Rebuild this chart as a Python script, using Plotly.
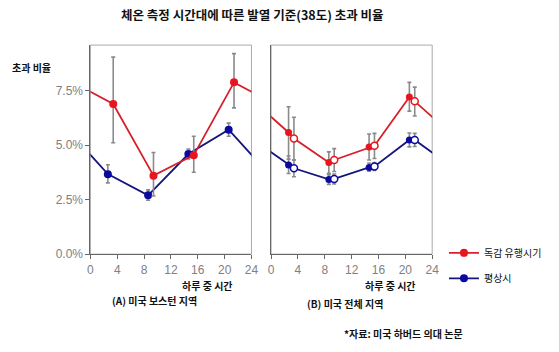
import plotly.graph_objects as go

# ---------------- data ----------------
hours_early = [2.6, 8.6, 14.6, 20.6]
hours_late = [3.4, 9.4, 15.4, 21.4]
xticks = [0, 4, 8, 12, 16, 20, 24]
yticks = [0, 2.5, 5, 7.5]
ytick_labels = ["0.0%", "2.5%", "5.0%", "7.5%"]

# (A) Boston
A_flu = [6.89, 3.60, 4.54, 7.88]
A_flu_hi = [9.04, 4.66, 5.41, 9.20]
A_flu_lo = [5.11, 2.67, 3.76, 6.71]
A_norm = [3.67, 2.70, 4.59, 5.71]
A_norm_hi = [4.10, 2.95, 4.82, 6.01]
A_norm_lo = [3.27, 2.47, 4.37, 5.41]

# (B) whole US : filled (early) and open (late) markers
B_flu_f = [5.58, 4.20, 4.91, 7.21]
B_flu_f_hi = [6.76, 4.69, 5.51, 7.88]
B_flu_f_lo = [4.36, 3.71, 4.32, 6.56]
B_flu_o = [5.30, 4.32, 4.97, 7.01]
B_flu_o_hi = [6.28, 4.84, 5.54, 7.66]
B_flu_o_lo = [4.32, 3.79, 4.39, 6.34]
B_norm_f = [4.09, 3.43, 3.98, 5.24]
B_norm_f_hi = [4.50, 3.65, 4.18, 5.56]
B_norm_f_lo = [3.70, 3.20, 3.80, 4.92]
B_norm_o = [3.94, 3.45, 4.02, 5.24]
B_norm_o_hi = [4.32, 3.68, 4.20, 5.54]
B_norm_o_lo = [3.55, 3.22, 3.84, 4.94]

RED_M = "#e8141e"
RED_L = "#d6202b"
BLUE_M = "#0a0aa0"
BLUE_L = "#15157e"
GRAY = "#8a8a8a"
KFONT = "Noto Sans CJK KR"

W, H = 559, 352


def wrap(xs, ys):
    # day is periodic: repeat last point one day earlier and first point one day later
    return [xs[-1] - 24] + list(xs) + [xs[0] + 24], [ys[-1]] + list(ys) + [ys[0]]


def err(y, hi, lo):
    return dict(type="data", symmetric=False,
                array=[h - v for h, v in zip(hi, y)],
                arrayminus=[v - l for v, l in zip(y, lo)],
                color=GRAY, thickness=1.6, width=2)


fig = go.Figure()

# ---- panel A ----
for xs, ys, hi, lo, lc, mc in [
    (hours_early, A_norm, A_norm_hi, A_norm_lo, BLUE_L, BLUE_M),
    (hours_late, A_flu, A_flu_hi, A_flu_lo, RED_L, RED_M),
]:
    wx, wy = wrap(xs, ys)
    fig.add_trace(go.Scatter(x=wx, y=wy, mode="lines", line=dict(color=lc, width=1.8),
                             xaxis="x", yaxis="y", showlegend=False, hoverinfo="skip"))
    fig.add_trace(go.Scatter(x=xs, y=ys, mode="markers", error_y=err(ys, hi, lo),
                             marker=dict(color=mc, size=8), xaxis="x", yaxis="y",
                             showlegend=False, cliponaxis=False))

# ---- panel B ----
for f, fh, fl, o, oh, ol, lc, mc in [
    (B_norm_f, B_norm_f_hi, B_norm_f_lo, B_norm_o, B_norm_o_hi, B_norm_o_lo, BLUE_L, BLUE_M),
    (B_flu_f, B_flu_f_hi, B_flu_f_lo, B_flu_o, B_flu_o_hi, B_flu_o_lo, RED_L, RED_M),
]:
    allx, ally = [], []
    for i in range(len(hours_early)):
        allx += [hours_early[i], hours_late[i]]
        ally += [f[i], o[i]]
    wx, wy = wrap(allx, ally)
    fig.add_trace(go.Scatter(x=wx, y=wy, mode="lines", line=dict(color=lc, width=1.8),
                             xaxis="x2", yaxis="y2", showlegend=False, hoverinfo="skip"))
    fig.add_trace(go.Scatter(x=hours_early, y=f, mode="markers", error_y=err(f, fh, fl),
                             marker=dict(color=mc, size=7), xaxis="x2", yaxis="y2",
                             showlegend=False, cliponaxis=False))
    fig.add_trace(go.Scatter(x=hours_late, y=o, mode="markers", error_y=err(o, oh, ol),
                             marker=dict(color="white", size=7, line=dict(color=mc, width=1.5)),
                             xaxis="x2", yaxis="y2", showlegend=False, cliponaxis=False))

# ---- legend entries ----
fig.add_trace(go.Scatter(x=[None], y=[None], mode="lines+markers", name="독감 유행시기",
                         line=dict(color=RED_L, width=1.8), marker=dict(color=RED_M, size=8),
                         legend="legend"))
fig.add_trace(go.Scatter(x=[None], y=[None], mode="lines+markers", name="평상시",
                         line=dict(color=BLUE_L, width=1.8), marker=dict(color=BLUE_M, size=8),
                         legend="legend2"))

ydom = [(352 - 259.3) / H, (352 - 46) / H]
yrange = [0, 9.59]
xa_common = dict(range=[0, 24], tickvals=xticks, ticks="outside", ticklen=4, tickcolor="#666",
                 showline=True, linecolor="#666", linewidth=1, showgrid=False, zeroline=False,
                 tickfont=dict(family="Liberation Sans", size=12, color="#808080"))
fig.update_layout(
    width=W, height=H, margin=dict(l=0, r=0, t=0, b=0),
    paper_bgcolor="white", plot_bgcolor="white",
    xaxis=dict(domain=[89 / W, 253 / W], anchor="y", **xa_common),
    yaxis=dict(domain=ydom, range=yrange, anchor="x", tickvals=yticks, ticktext=ytick_labels,
               ticks="outside", ticklen=4, tickcolor="#666", showline=True,
               linecolor="#666", showgrid=False, zeroline=False,
               tickfont=dict(family="Liberation Sans", size=12, color="#808080")),
    xaxis2=dict(domain=[273 / W, 437 / W], anchor="y2", **xa_common),
    yaxis2=dict(domain=ydom, range=yrange, anchor="x2", showticklabels=False, ticks="",
                showline=True, linecolor="#666", showgrid=False, zeroline=False),
    legend=dict(x=449 / W, y=1 - 258 / H, xanchor="left", yanchor="middle",
                bgcolor="rgba(0,0,0,0)", itemwidth=30,
                font=dict(family=KFONT, size=10, color="#111")),
    legend2=dict(x=449 / W, y=1 - 284 / H, xanchor="left", yanchor="middle",
                 bgcolor="rgba(0,0,0,0)", itemwidth=30,
                 font=dict(family=KFONT, size=10, color="#111")),
)

# panel frames (top/right borders lighter)
for xr, yr in [("x domain", "y domain"), ("x2 domain", "y2 domain")]:
    fig.add_shape(type="rect", xref=xr, yref=yr, x0=0, x1=1, y0=0, y1=1,
                  line=dict(color="#aaaaaa", width=1), layer="below")


def ann(text, x, y, size=10, bold=True, xanchor="center"):
    fig.add_annotation(text=f"<b>{text}</b>" if bold else text, x=x / W, y=1 - y / H,
                       xref="paper", yref="paper", showarrow=False, xanchor=xanchor,
                       yanchor="middle", font=dict(family=KFONT, size=size, color="#111"))


ann("체온 측정 시간대에 따른 발열 기준(38도) 초과 비율", 254, 15, size=12.5)
ann("초과 비율", 7, 69, size=10, xanchor="left")
ann("하루 중 시간", 208, 291, size=10)
ann("하루 중 시간", 395, 291, size=10)
ann("(A) 미국 보스턴 지역", 109, 307, size=10, xanchor="left")
ann("(B) 미국 전체 지역", 308, 310, size=10, xanchor="left")
ann("*자료: 미국 하버드 의대 논문", 345, 340, size=10, xanchor="left")

fig.write_html("out.html")
